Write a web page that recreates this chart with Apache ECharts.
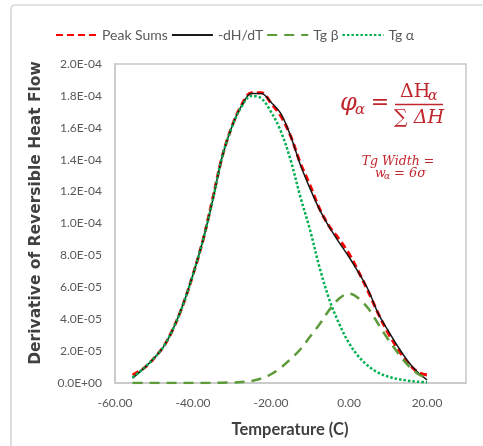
<!DOCTYPE html>
<html>
<head>
<meta charset="utf-8">
<script src="https://cdn.jsdelivr.net/npm/echarts@6/dist/echarts.min.js"></script>
<style>html,body{margin:0;padding:0;background:#fff;}#c{width:483px;height:446px;}</style>
</head>
<body>
<div id="c"></div>
<script>
// Temperature (C)
const temps = [-55.5, -52.5, -50, -47.5, -45, -42.5, -40, -37.5, -35, -32.5, -30, -27.5, -25, -22.5, -20, -17.5, -15, -12.5, -10, -7.5, -5, -2.5, 0, 2.5, 5, 7.5, 10, 12.5, 15, 17.5, 20];
// values in units of 1e-5
const UNIT = 1e-5;
const peakSums = [0.5, 0.95, 1.55, 2.3, 3.45, 4.95, 6.8, 8.9, 11.5, 14.2, 16.1, 17.45, 18.2, 18.2, 17.55, 16.75, 15.5, 13.8, 12.4, 10.9, 9.8, 9.0, 8.1, 6.95, 5.7, 4.35, 3.15, 2.15, 1.3, 0.7, 0.5];
const dHdT = [0.3, 0.95, 1.55, 2.3, 3.45, 4.95, 6.8, 8.9, 11.4, 14.2, 16.1, 17.4, 18.15, 18.15, 17.6, 16.9, 15.5, 13.7, 12.2, 10.85, 9.75, 8.8, 7.9, 6.9, 5.8, 4.35, 3.3, 2.3, 1.4, 0.7, 0.2];
const tgBeta = [0, 0, 0, 0, 0, 0, 0, 0, 0.01, 0.02, 0.03, 0.06, 0.13, 0.28, 0.55, 0.95, 1.5, 2.1, 2.9, 3.7, 4.6, 5.3, 5.6, 5.3, 4.65, 3.7, 2.75, 1.9, 1.15, 0.6, 0.3];
const tgAlpha = [0.35, 0.95, 1.55, 2.3, 3.45, 4.95, 6.8, 8.9, 11.4, 14.2, 16.05, 17.35, 18.0, 17.85, 17.0, 15.8, 14.0, 11.7, 9.6, 7.2, 5.2, 3.7, 2.5, 1.65, 1.05, 0.65, 0.4, 0.25, 0.15, 0.08, 0.05];
const seriesNames = ['Peak Sums', '-dH/dT', 'Tg \u03b2', 'Tg \u03b1'];
const xTicks = {min: -60, max: 30, interval: 20};
const yTicks = {min: 0, max: 2.0e-4, interval: 2.0e-5};

function pairs(vals) { return temps.map((t, i) => [t, vals[i] * UNIT]); }
function sci(v) {
  const s = v.toExponential(1).split('e');
  let e = parseInt(s[1], 10);
  const sign = e < 0 ? '-' : '+';
  e = Math.abs(e);
  return s[0] + 'E' + sign + (e < 10 ? '0' + e : '' + e);
}

const RED = '#c0262d';
const chart = echarts.init(document.getElementById('c'), null, {renderer: 'canvas'});
const lab = {color: '#595959', fontFamily: 'Lato', fontSize: 12};

chart.setOption({
  animation: false,
  backgroundColor: '#fff',
  grid: {left: 115, right: 17, top: 64, bottom: 63, show: true, borderColor: '#c8c8c8', borderWidth: 1.5},
  legend: {
    top: 23, left: 50, itemWidth: 41, itemHeight: 14, itemGap: 3,
    itemStyle: {opacity: 0},
    textStyle: {color: '#595959', fontFamily: 'Lato', fontSize: 14},
    data: seriesNames
  },
  xAxis: {
    type: 'value', min: xTicks.min, max: xTicks.max, interval: xTicks.interval,
    axisLine: {show: true, onZero: false, lineStyle: {color: '#c8c8c8', width: 1.5}},
    axisTick: {show: false}, splitLine: {show: false},
    axisLabel: Object.assign({margin: 14, showMaxLabel: false, formatter: v => v.toFixed(2)}, lab)
  },
  yAxis: {
    type: 'value', min: yTicks.min, max: yTicks.max, interval: yTicks.interval,
    axisLine: {show: true, onZero: false, lineStyle: {color: '#c8c8c8', width: 1.5}},
    axisTick: {show: false}, splitLine: {show: false},
    axisLabel: Object.assign({margin: 13, formatter: v => sci(v)}, lab)
  },
  graphic: [
    {type: 'rect', z: -10, shape: {x: 11, y: 5, width: 500, height: 470, r: 4}, style: {fill: 'none', stroke: '#c9c9c9', lineWidth: 1.2}},
    {type: 'text', x: 36, y: 213, rotation: Math.PI / 2, style: {text: 'Derivative of Reversible Heat Flow', font: 'bold 15.5px "DejaVu Sans"', fill: '#404040', align: 'center', verticalAlign: 'middle'}},
    {type: 'text', x: 290, y: 430, style: {text: 'Temperature (C)', font: 'bold 16.5px Lato', fill: '#404040', align: 'center', verticalAlign: 'middle'}},
    // formula
    {type: 'text', x: 340, y: 104, style: {text: '\u03c6', font: 'italic 24px "DejaVu Serif"', fill: RED, align: 'left', verticalAlign: 'middle'}},
    {type: 'text', x: 355, y: 110, style: {text: '\u03b1', font: 'italic 15px "DejaVu Serif"', fill: RED, align: 'left', verticalAlign: 'middle'}},
    {type: 'text', x: 380, y: 103, style: {text: '=', font: '22px "DejaVu Serif"', fill: RED, align: 'center', verticalAlign: 'middle'}},
    {type: 'text', x: 400, y: 92, style: {text: '\u0394H', font: '19px "DejaVu Serif"', fill: RED, align: 'left', verticalAlign: 'middle'}},
    {type: 'text', x: 428, y: 96, style: {text: '\u03b1', font: 'italic 14px "DejaVu Serif"', fill: RED, align: 'left', verticalAlign: 'middle'}},
    {type: 'line', shape: {x1: 395, y1: 104.5, x2: 443, y2: 104.5}, style: {stroke: RED, lineWidth: 1.5}},
    {type: 'text', x: 419, y: 118, style: {text: '\u2211 \u0394H', font: 'italic 19px "DejaVu Serif"', fill: RED, align: 'center', verticalAlign: 'middle'}},
    {type: 'text', x: 398, y: 162, style: {text: 'Tg Width =', font: 'italic 12.5px "DejaVu Serif"', fill: RED, align: 'center', verticalAlign: 'middle'}},
    {type: 'text', x: 375, y: 174, style: {text: 'w', font: 'italic 12.5px "DejaVu Serif"', fill: RED, align: 'left', verticalAlign: 'middle'}},
    {type: 'text', x: 384, y: 177, style: {text: '\u03b1', font: 'italic 9px "DejaVu Serif"', fill: RED, align: 'left', verticalAlign: 'middle'}},
    {type: 'text', x: 394, y: 174, style: {text: '= 6\u03c3', font: 'italic 13px "DejaVu Serif"', fill: RED, align: 'left', verticalAlign: 'middle'}}
  ],
  series: [
    {name: seriesNames[0], type: 'line', data: pairs(peakSums), smooth: 0.35, showSymbol: false, symbol: 'none',
     lineStyle: {color: '#ff0000', width: 3, type: [7, 4]}, itemStyle: {color: '#ff0000'}},
    {name: seriesNames[1], type: 'line', data: pairs(dHdT), smooth: 0.35, showSymbol: false, symbol: 'none',
     lineStyle: {color: '#1a1a1a', width: 1.5}, itemStyle: {color: '#1a1a1a'}},
    {name: seriesNames[2], type: 'line', data: pairs(tgBeta), smooth: 0.35, showSymbol: false, symbol: 'none',
     lineStyle: {color: '#5c9a3a', width: 2.5, type: [10, 7]}, itemStyle: {color: '#5c9a3a'}},
    {name: seriesNames[3], type: 'line', data: pairs(tgAlpha), smooth: 0.35, showSymbol: false, symbol: 'none',
     lineStyle: {color: '#00b050', width: 2.5, type: [2.5, 2]}, itemStyle: {color: '#00b050'}}
  ]
});
</script>
</body>
</html>
